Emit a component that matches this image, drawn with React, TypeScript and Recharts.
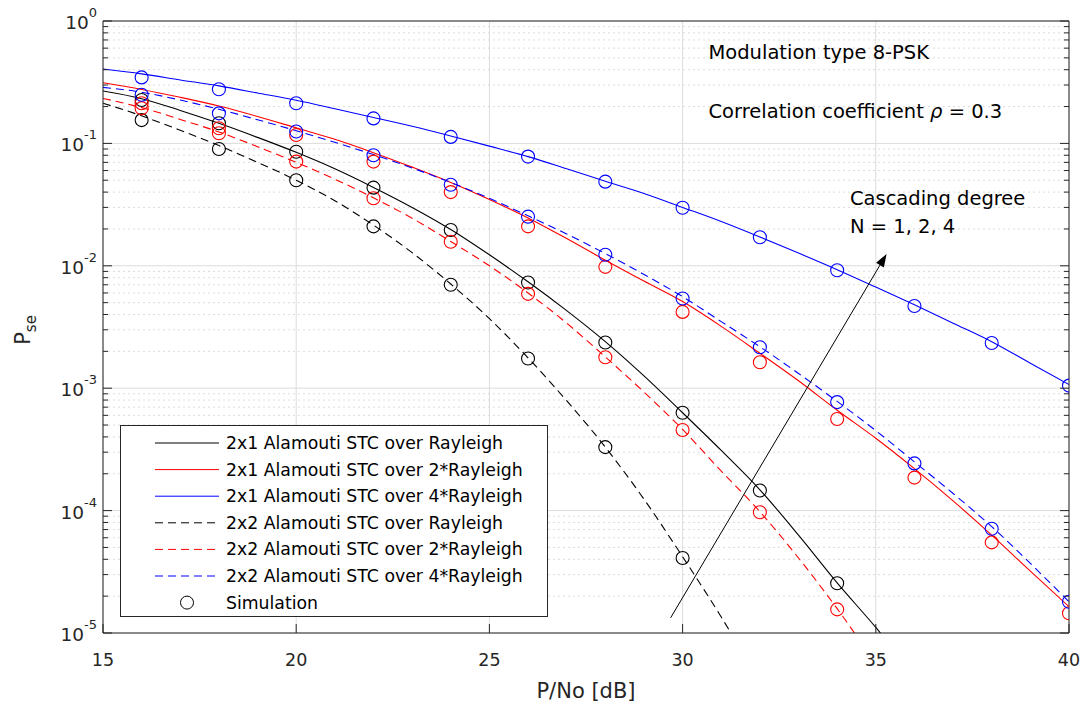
import { ComposedChart, Line, Scatter, XAxis, YAxis, CartesianGrid, Legend, ReferenceDot, ReferenceLine } from "recharts"

// SNR grid of the analytical curves and of the simulation markers
const snr = [15, 16, 17, 18, 19, 20, 21, 22, 23, 24, 25, 26, 27, 28, 29, 30, 31, 32, 33, 34, 35, 36, 37, 38, 39, 40]
const simSnr = [16, 18, 20, 22, 24, 26, 28, 30, 32, 34, 36, 38, 40]

const xTicks = [15, 20, 25, 30, 35, 40]
const yMajorTicks = [1e-5, 1e-4, 1e-3, 1e-2, 1e-1, 1]
const yMinorSteps = [2, 3, 4, 5, 6, 7, 8, 9]

// analytical curves (one value per dB, starting at 15 dB)
const theory2x1N1 = [0.268, 0.232, 0.186, 0.146, 0.112, 0.0845, 0.062, 0.0437, 0.03, 0.0198, 0.0123, 0.0074, 0.0043, 0.0024, 0.00126, 0.00063, 0.00031, 0.000148, 0.000063, 0.0000257, 0.0000111, 0.0000045]
const theory2x1N2 = [0.313, 0.276, 0.238, 0.202, 0.166, 0.134, 0.108, 0.084, 0.064, 0.048, 0.0348, 0.0246, 0.0167, 0.0111, 0.0075, 0.0051, 0.0032, 0.00193, 0.00115, 0.00066, 0.00039, 0.00022, 0.00012, 0.000063, 0.000032, 0.0000164]
const theory2x1N4 = [0.405, 0.37, 0.33, 0.295, 0.258, 0.225, 0.192, 0.163, 0.138, 0.115, 0.095, 0.078, 0.062, 0.049, 0.039, 0.03, 0.023, 0.0172, 0.0127, 0.0093, 0.0067, 0.0048, 0.0034, 0.0024, 0.0016, 0.00107]
const theory2x2N1 = [0.213, 0.168, 0.128, 0.096, 0.07, 0.05, 0.034, 0.0215, 0.0128, 0.0071, 0.0037, 0.00177, 0.00079, 0.00033, 0.000124, 0.000042, 0.0000135, 0.000004]
const theory2x2N2 = [0.233, 0.196, 0.157, 0.124, 0.094, 0.07, 0.051, 0.0359, 0.0245, 0.0158, 0.01, 0.006, 0.0034, 0.0018, 0.00093, 0.00046, 0.00021, 0.000098, 0.000041, 0.0000158, 0.0000056]
const theory2x2N4 = [0.287, 0.262, 0.226, 0.19, 0.156, 0.127, 0.102, 0.081, 0.063, 0.048, 0.0356, 0.0256, 0.0182, 0.0126, 0.0085, 0.0056, 0.0035, 0.00218, 0.00132, 0.00078, 0.00045, 0.00025, 0.000138, 0.000074, 0.000037, 0.000018]

// simulation results (every 2 dB, starting at 16 dB)
const sim2x1N1 = [0.226, 0.146, 0.0855, 0.0435, 0.0196, 0.0073, 0.00236, 0.00063, 0.000146, 0.0000255]
const sim2x1N2 = [0.213, 0.133, 0.117, 0.071, 0.04, 0.021, 0.0098, 0.0042, 0.00163, 0.00056, 0.000186, 0.000055, 0.0000145]
const sim2x1N4 = [0.346, 0.277, 0.213, 0.16, 0.113, 0.078, 0.0487, 0.0298, 0.0171, 0.0092, 0.0047, 0.00234, 0.00105]
const sim2x2N1 = [0.155, 0.09, 0.05, 0.021, 0.007, 0.00175, 0.00033, 0.000041]
const sim2x2N2 = [0.194, 0.121, 0.071, 0.0356, 0.0157, 0.0059, 0.00179, 0.000455, 0.000097, 0.0000156]
const sim2x2N4 = [0.25, 0.176, 0.125, 0.08, 0.046, 0.0252, 0.0123, 0.0054, 0.00216, 0.00077, 0.000243, 0.000071, 0.000018]

const AXIS = "#262626"
const GRID = "#dcdcdc"
const FONT = "'DejaVu Sans', sans-serif"
const DASH = "8 5"

const toPoints = (xs: number[], ys: number[]) => ys.map((y, i) => ({ x: xs[i], y }))

const series = [
  { name: "2x1 Alamouti STC over Rayleigh", color: "#000000", dash: undefined, theory: theory2x1N1, sim: sim2x1N1 },
  { name: "2x1 Alamouti STC over 2*Rayleigh", color: "#ff0000", dash: undefined, theory: theory2x1N2, sim: sim2x1N2 },
  { name: "2x1 Alamouti STC over 4*Rayleigh", color: "#0000ff", dash: undefined, theory: theory2x1N4, sim: sim2x1N4 },
  { name: "2x2 Alamouti STC over Rayleigh", color: "#000000", dash: DASH, theory: theory2x2N1, sim: sim2x2N1 },
  { name: "2x2 Alamouti STC over 2*Rayleigh", color: "#ff0000", dash: DASH, theory: theory2x2N2, sim: sim2x2N2 },
  { name: "2x2 Alamouti STC over 4*Rayleigh", color: "#0000ff", dash: DASH, theory: theory2x2N4, sim: sim2x2N4 },
]

// majors + minors, ascending
const yTicks: number[] = []
yMajorTicks.forEach((m, i) => {
  yTicks.push(m)
  if (i < yMajorTicks.length - 1) yMinorSteps.forEach((s) => yTicks.push(m * s))
})

const isMajor = (v: number) => {
  const e = Math.log10(v)
  return Math.abs(e - Math.round(e)) < 1e-6
}

const LeftTick = ({ x, y, payload }: any) => {
  const major = isMajor(payload.value)
  const exp = Math.round(Math.log10(payload.value))
  return (
    <g>
      <line x1={x} y1={y} x2={x + (major ? 9 : 5)} y2={y} stroke={AXIS} />
      {major && (
        <text x={x - 6} y={y + 8} textAnchor="end" fontFamily={FONT} fontSize={18.5} fill={AXIS}>
          10
          <tspan dy={-12} fontSize={13}>
            {exp}
          </tspan>
        </text>
      )}
    </g>
  )
}

const RightTick = ({ x, y, payload }: any) => {
  const major = isMajor(payload.value)
  return <line x1={x} y1={y} x2={x - (major ? 9 : 5)} y2={y} stroke={AXIS} />
}

const BottomTick = ({ x, y, payload }: any) => (
  <g>
    <line x1={x} y1={y} x2={x} y2={y - 9} stroke={AXIS} />
    <text x={x} y={y + 33} textAnchor="middle" fontFamily={FONT} fontSize={17.5} fill={AXIS}>
      {payload.value}
    </text>
  </g>
)

const TopTick = ({ x, y }: any) => <line x1={x} y1={y} x2={x} y2={y + 9} stroke={AXIS} />

const GridRow = (p: any) => {
  const major = isMajor(yTicks[p.index])
  return (
    <line
      key={p.key}
      x1={p.x1}
      x2={p.x2}
      y1={p.y1}
      y2={p.y2}
      stroke={GRID}
      strokeWidth={1}
      strokeDasharray={major ? undefined : "2 3"}
    />
  )
}

const Note = ({ viewBox, children }: any) => (
  <text x={viewBox.x} y={viewBox.y} fontFamily={FONT} fontSize={19.5} fill="#000">
    {children}
  </text>
)

const Arrow = ({ x1, y1, x2, y2 }: any) => {
  const ang = Math.atan2(y2 - y1, x2 - x1)
  const len = 13
  const half = 4.5
  const bx = x2 - len * Math.cos(ang)
  const by = y2 - len * Math.sin(ang)
  const px = -Math.sin(ang) * half
  const py = Math.cos(ang) * half
  return (
    <g>
      <line x1={x1} y1={y1} x2={bx} y2={by} stroke="#000" strokeWidth={1} />
      <polygon points={`${x2},${y2} ${bx + px},${by + py} ${bx - px},${by - py}`} fill="#000" />
    </g>
  )
}

const LegendBox = () => {
  const rowY = (i: number) => 17 + i * 26.6
  return (
    <div style={{ width: 428, height: 192, border: `1px solid ${AXIS}`, background: "#fff", boxSizing: "border-box" }}>
      <svg width={426} height={190} style={{ display: "block" }}>
        {series.map((s, i) => (
          <g key={s.name}>
            <line x1={34} x2={98} y1={rowY(i)} y2={rowY(i)} stroke={s.color} strokeDasharray={s.dash} />
            <text x={105} y={rowY(i)} dominantBaseline="central" fontFamily={FONT} fontSize={17.3} fill="#000">
              {s.name}
            </text>
          </g>
        ))}
        <circle cx={66} cy={rowY(6)} r={6.5} fill="none" stroke="#000" />
        <text x={105} y={rowY(6)} dominantBaseline="central" fontFamily={FONT} fontSize={17.3} fill="#000">
          Simulation
        </text>
      </svg>
    </div>
  )
}

const App = () => {
  return (
    <div style={{ position: "absolute", left: 0, top: 0, width: 1087, height: 708, background: "#fff" }}>
      <ComposedChart width={1087} height={708} margin={{ top: 20, right: 17, bottom: 0, left: 0 }}>
        <CartesianGrid stroke={GRID} horizontal={GridRow} />
        <XAxis
          dataKey="x"
          type="number"
          domain={[15, 40]}
          ticks={xTicks}
          interval={0}
          allowDataOverflow
          height={75}
          tickSize={0}
          tickMargin={0}
          tickLine={false}
          tick={BottomTick}
          axisLine={{ stroke: AXIS }}
          label={{
            content: ({ viewBox }: any) => (
              <text x={viewBox.x + viewBox.width / 2} y={698} textAnchor="middle" fontFamily={FONT} fontSize={21} fill={AXIS}>
                P/No [dB]
              </text>
            ),
          }}
        />
        <XAxis
          xAxisId="top"
          orientation="top"
          type="number"
          domain={[15, 40]}
          ticks={xTicks}
          interval={0}
          allowDataOverflow
          height={1}
          tickSize={0}
          tickMargin={0}
          tickLine={false}
          tick={TopTick}
          axisLine={{ stroke: AXIS }}
        />
        <YAxis
          dataKey="y"
          type="number"
          scale="log"
          domain={[1e-5, 1]}
          ticks={yTicks}
          interval={0}
          allowDataOverflow
          width={103}
          tickSize={0}
          tickMargin={0}
          tickLine={false}
          tick={LeftTick}
          axisLine={{ stroke: AXIS }}
          label={{
            content: () => (
              <text
                x={30}
                y={330}
                transform="rotate(-90 30 330)"
                textAnchor="middle"
                fontFamily={FONT}
                fontSize={21}
                fill={AXIS}
              >
                P
                <tspan dy={6} fontSize={15}>
                  se
                </tspan>
              </text>
            ),
          }}
        />
        <YAxis
          yAxisId="right"
          orientation="right"
          type="number"
          scale="log"
          domain={[1e-5, 1]}
          ticks={yTicks}
          interval={0}
          allowDataOverflow
          width={1}
          tickSize={0}
          tickMargin={0}
          tickLine={false}
          tick={RightTick}
          axisLine={{ stroke: AXIS }}
        />
        {series.map((s) => (
          <Line
            key={`line-${s.name}`}
            data={toPoints(snr, s.theory)}
            dataKey="y"
            type="monotone"
            stroke={s.color}
            strokeWidth={1.1}
            strokeDasharray={s.dash}
            dot={false}
            activeDot={false}
            isAnimationActive={false}
            legendType="none"
          />
        ))}
        {series.map((s) => (
          <Scatter
            key={`sim-${s.name}`}
            data={toPoints(simSnr, s.sim)}
            isAnimationActive={false}
            legendType="none"
            shape={(p: any) => <circle cx={p.cx} cy={p.cy} r={6.5} fill="none" stroke={s.color} strokeWidth={1.1} />}
          />
        ))}
        <ReferenceLine
          segment={[
            { x: 29.69, y: 1.33e-5 },
            { x: 35.28, y: 0.0125 },
          ]}
          shape={Arrow}
        />
        <ReferenceDot x={30.67} y={0.489} r={0} fill="none" stroke="none" label={<Note>Modulation type 8-PSK</Note>} />
        <ReferenceDot
          x={30.67}
          y={0.1603}
          r={0}
          fill="none"
          stroke="none"
          label={
            <Note>
              Correlation coefficient <tspan fontStyle="italic">ρ</tspan> = 0.3
            </Note>
          }
        />
        <ReferenceDot x={34.33} y={0.0314} r={0} fill="none" stroke="none" label={<Note>Cascading degree</Note>} />
        <ReferenceDot x={34.33} y={0.01853} r={0} fill="none" stroke="none" label={<Note>N = 1, 2, 4</Note>} />
        <Legend
          layout="vertical"
          align="center"
          verticalAlign="middle"
          content={LegendBox}
          wrapperStyle={{ left: 120, top: 425, width: 428, height: 192 }}
        />
      </ComposedChart>
    </div>
  )
}

export default App
